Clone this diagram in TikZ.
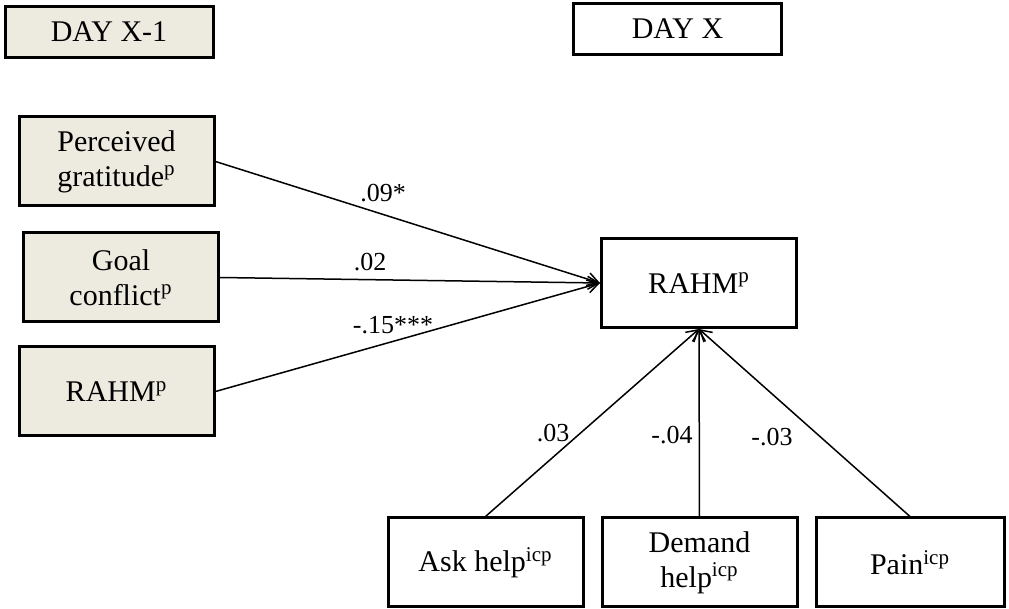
\documentclass[tikz,border=0pt]{standalone}
\usepackage{fontspec}
\setmainfont{Liberation Serif}
\usepackage{xcolor}
\usetikzlibrary{positioning,arrows.meta}
\definecolor{boxfill}{HTML}{EDEAE0}

\begin{document}
\begin{tikzpicture}[x=0.5pt,y=-0.5pt,
		box/.style={draw, line width=1.5pt, minimum width=97.5pt, minimum height=44.5pt, inner sep=0pt, align=center, font=\fontsize{15}{17.5}\selectfont},
		pastbox/.style={box, fill=boxfill},
		daybox/.style={box, minimum width=104pt, minimum height=25.5pt},
		arr/.style={line width=0.75pt, -{Straight Barb[length=5.5pt,width=6.5pt]}},
		lab/.style={inner sep=0pt, font=\fontsize{13}{15}\selectfont}]
		\useasboundingbox (0,0) rectangle (1009,609);
		
		\node[daybox, fill=boxfill] (d1) at (109,32) {DAY X-1};
		\node[daybox] (d0) at (677.5,29) {DAY X};
		
		\node[pastbox] (pg) at (116.5,161.5) {Perceived\\gratitude\textsuperscript{p}};
		\node[pastbox] (gc) at (121,277.5) {Goal\\conflict\textsuperscript{p}};
		\node[pastbox] (rx1) at (116.5,391.5) {RAHM\textsuperscript{p}};
		
		\node[box] (rx) at (699,283) {RAHM\textsuperscript{p}};
		
		\node[box] (ah) at (485.5,562.5) {Ask help\textsuperscript{icp}};
		\node[box] (dh) at (699.5,562.5) {Demand\\help\textsuperscript{icp}};
		\node[box, minimum width=94pt] (pn) at (910,562.5) {Pain\textsuperscript{icp}};
		
		\draw[arr] (pg.east) -- (rx.west);
		\draw[arr] (gc.east) -- (rx.west);
		\draw[arr] (rx1.east) -- (rx.west);
		\draw[arr] (ah.north) -- (rx.south);
		\draw[arr] (dh.north) -- (rx.south);
		\draw[arr] (pn.north) -- (rx.south);
		
		\node[lab] (l1) at (383,193) {.09*};
		\node[lab] (l2) at (370,262) {.02};
		\node[lab] (l3) at (393,325) {-.15***};
		\node[lab] (l4) at (553,433) {.03};
		\node[lab] (l5) at (672,435) {-.04};
		\node[lab] (l6) at (772,437) {-.03};
\end{tikzpicture}
\end{document}
